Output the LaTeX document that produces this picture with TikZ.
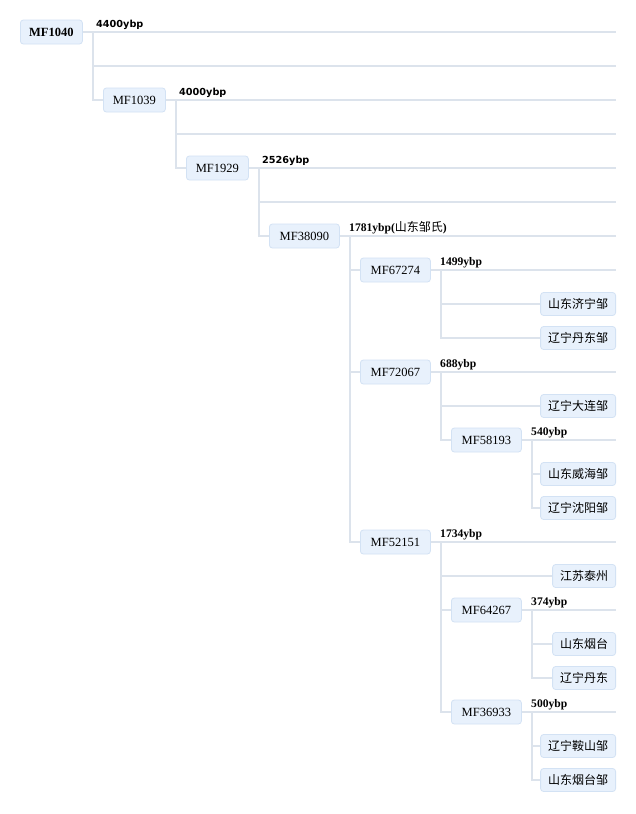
\documentclass[tikz,border=0pt]{standalone}
\usepackage{fontspec}
\setmainfont{Liberation Serif}
\setsansfont{DejaVu Sans}
\newfontfamily\cjk{Noto Sans CJK SC}
\usepackage{tikz}
\definecolor{boxfill}{HTML}{E8F1FC}
\definecolor{boxline}{HTML}{D3E2F4}
\definecolor{treeline}{HTML}{DCE3EC}
\begin{document}
\begin{tikzpicture}
                    [x=1pt, y=-1pt,
                    mf/.style={rectangle, rounded corners=3pt,
                        fill=boxfill, draw=boxline, line width=.8pt,
                        minimum width=70pt, minimum height=24pt,
                        inner sep=0pt, anchor=west,
                        font=\fontsize{12.5}{14}\selectfont},
                    rootbox/.style={mf, minimum width=62pt},
                    town/.style={rectangle, rounded corners=3pt,
                        fill=boxfill, draw=boxline, line width=.8pt,
                        minimum height=23pt, inner xsep=7.5pt, inner ysep=0pt,
                        anchor=east, font=\cjk\fontsize{12}{14}\selectfont},
                    age/.style={anchor=base west, inner sep=0pt,
                        font=\sffamily\bfseries\fontsize{9.7}{11}\selectfont},
                    agex/.style={anchor=base west, inner sep=0pt,
                        font=\bfseries\fontsize{11.6}{13}\selectfont},
                    link/.style={draw=treeline, line width=1.4pt}]

                    \path[use as bounding box, fill=white] (0,0) rectangle (636,814);

                    \foreach \r in {0,...,20}
                        \coordinate (end\r) at (616,32+34*\r);

                    \node[rootbox, font=\bfseries\fontsize{12.5}{14}\selectfont]
                        (mf1040) at (20,32) {MF1040};
                    \node[rootbox] (mf1039) at (103,100) {MF1039};
                    \node[rootbox] (mf1929) at (186,168) {MF1929};
                    \node[mf] (mf38090) at (269,236) {MF38090};
                    \node[mf] (mf67274) at (360,270) {MF67274};
                    \node[town] (jining) at (616,304) {山东济宁邹};
                    \node[town] (dandongzou) at (616,338) {辽宁丹东邹};
                    \node[mf] (mf72067) at (360,372) {MF72067};
                    \node[town] (dalian) at (616,406) {辽宁大连邹};
                    \node[mf] (mf58193) at (451,440) {MF58193};
                    \node[town] (weihai) at (616,474) {山东威海邹};
                    \node[town] (shenyang) at (616,508) {辽宁沈阳邹};
                    \node[mf] (mf52151) at (360,542) {MF52151};
                    \node[town] (taizhou) at (616,576) {江苏泰州};
                    \node[mf] (mf64267) at (451,610) {MF64267};
                    \node[town] (yantai) at (616,644) {山东烟台};
                    \node[town] (dandong) at (616,678) {辽宁丹东};
                    \node[mf] (mf36933) at (451,712) {MF36933};
                    \node[town] (anshan) at (616,746) {辽宁鞍山邹};
                    \node[town] (yantaizou) at (616,780) {山东烟台邹};

                    \node[age] (l4400) at (96,27) {4400ybp};
                    \node[age] (l4000) at (179,95) {4000ybp};
                    \node[age] (l2526) at (262,163) {2526ybp};
                    \node[agex] (l1781) at (349,231)
                        {1781ybp({\cjk\mdseries\fontsize{12}{13}\selectfont 山东邹氏})};
                    \node[agex] (l1499) at (440,265) {1499ybp};
                    \node[agex] (l688) at (440,367) {688ybp};
                    \node[agex] (l540) at (531,435) {540ybp};
                    \node[agex] (l1734) at (440,537) {1734ybp};
                    \node[agex] (l374) at (531,605) {374ybp};
                    \node[agex] (l500) at (531,707) {500ybp};

                    \path[link]
                        (mf1040)  edge (end0)
                        (mf1039)  edge (end2)
                        (mf1929)  edge (end4)
                        (mf38090) edge (end6)
                        (mf67274) edge (end7)
                        (mf72067) edge (end10)
                        (mf58193) edge (end12)
                        (mf52151) edge (end15)
                        (mf64267) edge (end17)
                        (mf36933) edge (end20);

                    \draw[link]
                        (mf1040.east) -- ++(10,0) |- (end1)
                        (mf1040.east) -- ++(10,0) |- (mf1039.west)
                        (mf1039.east) -- ++(10,0) |- (end3)
                        (mf1039.east) -- ++(10,0) |- (mf1929.west)
                        (mf1929.east) -- ++(10,0) |- (end5)
                        (mf1929.east) -- ++(10,0) |- (mf38090.west);

                    \draw[link]
                        (mf38090.east) -- ++(10,0) |- (mf67274.west)
                        (mf38090.east) -- ++(10,0) |- (mf72067.west)
                        (mf38090.east) -- ++(10,0) |- (mf52151.west)
                        (mf67274.east) -- ++(10,0) |- (jining.west)
                        (mf67274.east) -- ++(10,0) |- (dandongzou.west)
                        (mf72067.east) -- ++(10,0) |- (dalian.west)
                        (mf72067.east) -- ++(10,0) |- (mf58193.west)
                        (mf58193.east) -- ++(10,0) |- (weihai.west)
                        (mf58193.east) -- ++(10,0) |- (shenyang.west);

                    \draw[link]
                        (mf52151.east) -- ++(10,0) |- (taizhou.west)
                        (mf52151.east) -- ++(10,0) |- (mf64267.west)
                        (mf52151.east) -- ++(10,0) |- (mf36933.west)
                        (mf64267.east) -- ++(10,0) |- (yantai.west)
                        (mf64267.east) -- ++(10,0) |- (dandong.west)
                        (mf36933.east) -- ++(10,0) |- (anshan.west)
                        (mf36933.east) -- ++(10,0) |- (yantaizou.west);
\end{tikzpicture}
\end{document}
